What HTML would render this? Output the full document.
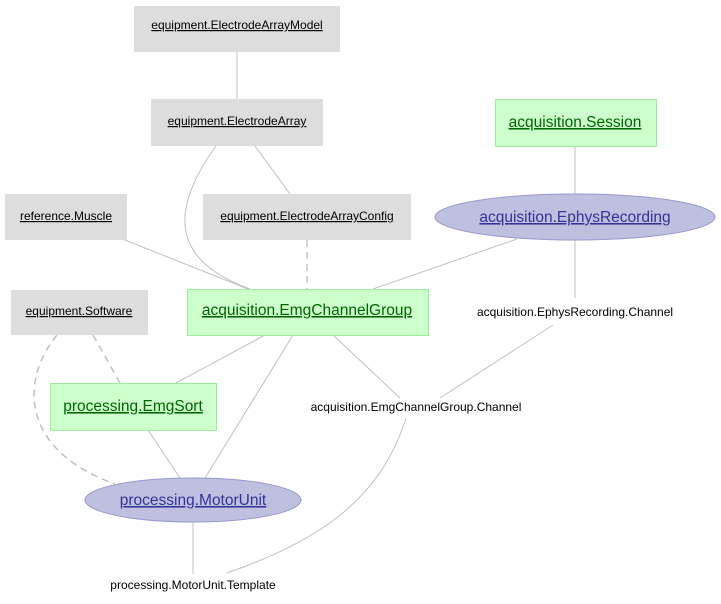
<!DOCTYPE html>
<html><head><meta charset="utf-8"><style>
html,body{margin:0;padding:0;background:#fff;}
svg{display:block;}
text{font-family:"Liberation Sans",Arial,sans-serif;text-anchor:middle;}
.m{font-size:12px;fill:#000;text-decoration:underline;}
.g{font-size:15.5px;fill:#006400;text-decoration:underline;}
.b{font-size:15.5px;fill:#333399;text-decoration:underline;}
.p{font-size:12px;fill:#000;}
.e{stroke:#c0c0c0;stroke-width:1;fill:none;}
.d{stroke:#c0c0c0;stroke-width:1.5;fill:none;stroke-dasharray:7,5;}
</style></head><body>
<svg width="721" height="604" viewBox="0 0 721 604" xmlns="http://www.w3.org/2000/svg">
<path class="e" d="M237,52 L237,99"/>
<path class="e" d="M216,146 C170,210 170,260 250,289"/>
<path class="e" d="M255,146 L290,194"/>
<path class="d" d="M307,240 L307,289"/>
<path class="e" d="M125,240 L248,289"/>
<path class="e" d="M517,239 L373,289"/>
<path class="e" d="M575,146 L575,194"/>
<path class="e" d="M575,240 L575,298"/>
<path class="e" d="M553,325 L440,398"/>
<path class="e" d="M265,335 L176,383"/>
<path class="e" d="M293,335 L205,478"/>
<path class="e" d="M333,335 L400,398"/>
<path class="d" d="M93,335 L120,383"/>
<path class="d" d="M57,335 C20,380 20,450 115,484"/>
<path class="e" d="M148,430 L180,478"/>
<path class="e" d="M193,522 L193,574"/>
<path class="e" d="M406,418 C380,500 320,540 227,573"/>

<rect x="134" y="6" width="206" height="46" fill="#dddddd"/>
<text class="m" x="237" y="29">equipment.ElectrodeArrayModel</text>
<rect x="151" y="99" width="172" height="47" fill="#dddddd"/>
<text class="m" x="237" y="125">equipment.ElectrodeArray</text>
<rect x="495.5" y="99.5" width="161" height="47" fill="#ccffcc" stroke="#99ee99"/>
<text class="g" x="575" y="127">acquisition.Session</text>
<rect x="5" y="194" width="122" height="46" fill="#dddddd"/>
<text class="m" x="66" y="220">reference.Muscle</text>
<rect x="203" y="194" width="208" height="46" fill="#dddddd"/>
<text class="m" x="307" y="220">equipment.ElectrodeArrayConfig</text>
<ellipse cx="575" cy="217" rx="140" ry="23" fill="#bfbfdf" stroke="#9999cc"/>
<text class="b" x="575" y="222">acquisition.EphysRecording</text>
<rect x="11" y="290" width="137" height="45" fill="#dddddd"/>
<text class="m" x="79" y="315">equipment.Software</text>
<rect x="187.5" y="289.5" width="241" height="46" fill="#ccffcc" stroke="#99ee99"/>
<text class="g" x="307" y="315">acquisition.EmgChannelGroup</text>
<text class="p" x="575" y="316">acquisition.EphysRecording.Channel</text>
<rect x="50.5" y="383.5" width="166" height="47" fill="#ccffcc" stroke="#99ee99"/>
<text class="g" x="133" y="411">processing.EmgSort</text>
<text class="p" x="416" y="411">acquisition.EmgChannelGroup.Channel</text>
<ellipse cx="193" cy="500" rx="108" ry="22" fill="#bfbfdf" stroke="#9999cc"/>
<text class="b" x="193" y="505">processing.MotorUnit</text>
<text class="p" x="193" y="589">processing.MotorUnit.Template</text>
</svg>
</body></html>
